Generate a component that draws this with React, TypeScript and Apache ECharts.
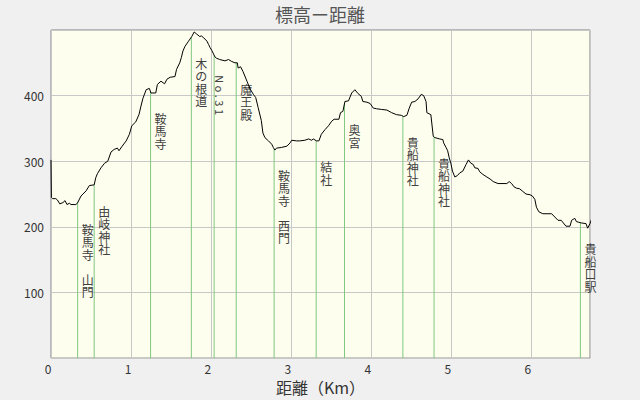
import React, { useEffect, useRef } from "react";
import * as echarts from "echarts";

const titleText = "標高ー距離";
const xAxisName = "距離（Km）";

const profileKm = [
  0.0, 0.005, 0.02, 0.06, 0.08, 0.11, 0.15, 0.175, 0.2, 0.23, 0.25, 0.31, 0.33, 0.375, 0.44, 0.48, 0.54, 0.56,
  0.58, 0.625, 0.67, 0.71, 0.75, 0.79, 0.83, 0.85, 0.89, 0.94, 0.98, 1.01, 1.06, 1.1, 1.125, 1.15, 1.19, 1.23,
  1.25, 1.31, 1.33, 1.375, 1.42, 1.45, 1.49, 1.55, 1.57, 1.61, 1.63, 1.65, 1.675, 1.72, 1.76, 1.79, 1.82, 1.86,
  1.88, 1.91, 1.95, 1.97, 1.99, 2.01, 2.05, 2.07, 2.11, 2.175, 2.22, 2.26, 2.3, 2.33, 2.34, 2.37, 2.4, 2.45,
  2.49, 2.53, 2.56, 2.59, 2.63, 2.65, 2.675, 2.72, 2.76, 2.78, 2.8, 2.82, 2.88, 2.95, 2.99, 3.01, 3.07, 3.11,
  3.175, 3.22, 3.26, 3.28, 3.32, 3.35, 3.38, 3.425, 3.47, 3.51, 3.54, 3.6, 3.62, 3.65, 3.675, 3.72, 3.76, 3.8,
  3.84, 3.88, 3.9, 3.95, 3.99, 4.03, 4.07, 4.13, 4.2, 4.26, 4.32, 4.38, 4.41, 4.45, 4.48, 4.51, 4.55, 4.59,
  4.63, 4.66, 4.69, 4.7, 4.75, 4.78, 4.8, 4.86, 4.9, 4.91, 4.94, 4.96, 4.98, 5.0, 5.02, 5.05, 5.08, 5.11,
  5.15, 5.19, 5.22, 5.25, 5.28, 5.3, 5.34, 5.36, 5.4, 5.45, 5.49, 5.53, 5.59, 5.7, 5.73, 5.76, 5.79, 5.82,
  5.86, 5.9, 5.94, 5.99, 6.02, 6.05, 6.07, 6.1, 6.15, 6.26, 6.3, 6.34, 6.38, 6.44, 6.49, 6.51, 6.55, 6.57,
  6.6, 6.63, 6.69, 6.71, 6.74, 6.76, 6.8,
];

const profileElev = [
  302, 245, 243, 243, 241, 235, 237, 240, 234, 236, 234, 234, 236, 247, 255, 263, 264, 275,
  281, 290, 297, 300, 314, 318, 320, 316, 323, 331, 341, 354, 360, 371, 384, 396, 409, 411,
  404, 404, 417, 422, 418, 425, 428, 429, 440, 450, 458, 468, 475, 483, 490, 497, 494, 490,
  491, 488, 483, 478, 473, 469, 459, 457, 455, 453, 455, 452, 450, 450, 442, 444, 437, 422,
  410, 402, 397, 382, 362, 343, 336, 331, 326, 321, 317, 320, 321, 323, 328, 332, 331, 331,
  332, 334, 332, 334, 331, 331, 341, 348, 354, 361, 364, 364, 374, 376, 391, 392, 404, 409,
  403, 399, 391, 390, 388, 381, 380, 379, 378, 374, 371, 370, 368, 370, 381, 390, 391, 395,
  402, 400, 391, 374, 371, 338, 336, 334, 333, 328, 321, 316, 305, 297, 285, 276, 278, 282,
  285, 295, 302, 297, 295, 290, 289, 284, 280, 276, 273, 269, 266, 266, 269, 266, 261, 259,
  258, 254, 250, 249, 247, 242, 230, 223, 220, 220, 215, 210, 210, 201, 201, 210, 213, 208,
  207, 206, 205, 198, 205, 212, 213,
];

const landmarkNames = [
  "鞍馬寺　山門",
  "由岐神社",
  "鞍馬寺",
  "木の根道",
  "No.31",
  "魔王殿",
  "鞍馬寺　西門",
  "結社",
  "奥宮",
  "貴船神社",
  "貴船神社",
  "貴船口駅",
];
const landmarkKm = [0.333, 0.54, 1.245, 1.755, 2.04, 2.316, 2.79, 3.316, 3.67, 4.4, 4.79, 6.62];

const xMin = 0;
const xMax = 6.74;
const xInterval = 1;
const yMin = 0;
const yMax = 500;
const yInterval = 100;
const yShownLabels = [100, 200, 300, 400];

const FONT = '"Noto Sans CJK JP", "Noto Sans", sans-serif';

function elevAt(km: number): number {
  for (let i = 1; i < profileKm.length; i++) {
    if (profileKm[i] >= km) {
      const k0 = profileKm[i - 1];
      const k1 = profileKm[i];
      const t = k1 === k0 ? 0 : (km - k0) / (k1 - k0);
      return profileElev[i - 1] + t * (profileElev[i] - profileElev[i - 1]);
    }
  }
  return profileElev[profileElev.length - 1];
}

export default function App() {
  const ref = useRef<HTMLDivElement | null>(null);

  useEffect(() => {
    document.body.style.margin = "0";
    if (!ref.current) return;
    const chart = echarts.init(ref.current, undefined, { renderer: "svg" });

    const profileData = profileKm.map((k, i) => [k, profileElev[i]]);
    const landmarkData = landmarkKm.map((k, i) => [k, elevAt(k), i]);

    const option: any = {
      animation: false,
      backgroundColor: "#f0f0f0",
      title: {
        text: titleText,
        left: "center",
        top: 0,
        textStyle: { fontFamily: FONT, fontSize: 18, fontWeight: "normal", color: "#555555" },
      },
      grid: {
        left: 51,
        right: 50,
        top: 30,
        bottom: 40,
        show: true,
        backgroundColor: "#fefeee",
        borderColor: "#808080",
        borderWidth: 1,
      },
      xAxis: {
        type: "value",
        min: xMin,
        max: xMax,
        interval: xInterval,
        name: xAxisName,
        nameLocation: "middle",
        nameGap: 11,
        nameTextStyle: { fontFamily: FONT, fontSize: 16, color: "#333333", verticalAlign: "top" },
        axisLine: { show: false },
        axisTick: { show: false },
        axisLabel: {
          margin: 4,
          fontFamily: FONT,
          fontSize: 12,
          color: "#333333",
          padding: [0, 6, 0, 0],
          formatter: (v: number) => (Math.abs(v - Math.round(v)) < 1e-9 ? String(Math.round(v)) : ""),
        },
        splitLine: { show: true, lineStyle: { color: "#c8c8c8", width: 1 } },
      },
      yAxis: {
        type: "value",
        min: yMin,
        max: yMax,
        interval: yInterval,
        axisLine: { show: false },
        axisTick: { show: false },
        axisLabel: {
          margin: 7,
          fontFamily: FONT,
          fontSize: 12,
          color: "#333333",
          formatter: (v: number) => (yShownLabels.includes(v) ? String(v) : ""),
        },
        splitLine: { show: true, lineStyle: { color: "#c8c8c8", width: 1 } },
      },
      series: [
        {
          type: "custom",
          z: 2,
          clip: false,
          data: landmarkData,
          renderItem: (params: any, api: any) => {
            const km = api.value(0);
            const top = api.value(1);
            const idx = api.value(2);
            const name = landmarkNames[idx];
            const p0 = api.coord([km, 0]);
            const p1 = api.coord([km, top]);
            const isAscii = /^[\x00-\x7f]+$/.test(name);
            const children: any[] = [
              {
                type: "line",
                shape: { x1: p0[0], y1: p0[1], x2: p1[0], y2: p1[1] },
                style: { stroke: "#80c880", lineWidth: 1 },
              },
            ];
            if (isAscii) {
              children.push({
                type: "text",
                x: p1[0] + 6,
                y: p1[1] + 20,
                rotation: -Math.PI / 2,
                style: {
                  text: name.split("").join(" "),
                  fontFamily: FONT,
                  fontSize: 11,
                  fill: "#404040",
                  align: "left",
                  verticalAlign: "middle",
                },
              });
            } else {
              children.push({
                type: "text",
                x: p1[0] + 10,
                y: p1[1] + 20,
                style: {
                  text: name.split("").join("\n"),
                  fontFamily: FONT,
                  fontSize: 12,
                  lineHeight: 12.5,
                  fill: "#404040",
                  align: "center",
                  verticalAlign: "top",
                },
              });
            }
            return { type: "group", children };
          },
        },
        {
          type: "line",
          z: 3,
          clip: false,
          data: profileData,
          showSymbol: false,
          symbol: "none",
          lineStyle: { color: "#000000", width: 1 },
          itemStyle: { color: "#000000" },
        },
      ],
    };

    chart.setOption(option);
    return () => {
      chart.dispose();
    };
  }, []);

  return <div ref={ref} style={{ width: 640, height: 400 }} />;
}
